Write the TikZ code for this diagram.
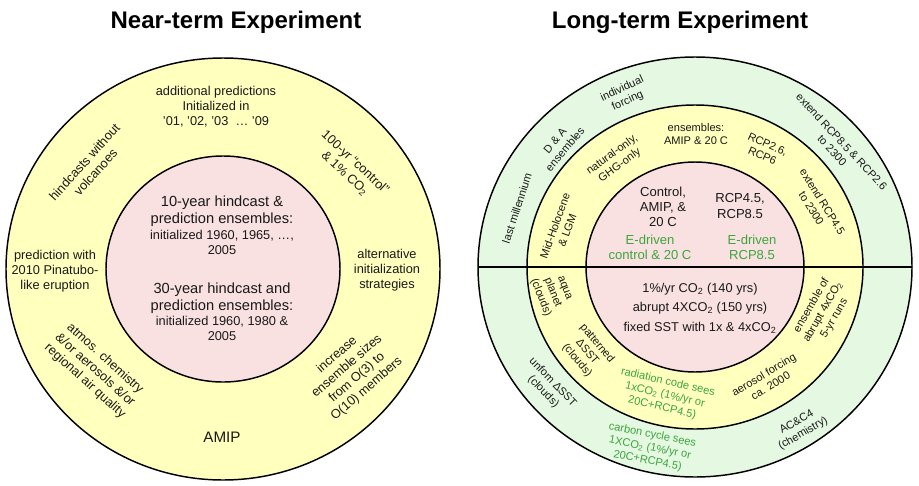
\documentclass[tikz,border=0pt]{standalone}
\usepackage{fontspec}
\setmainfont{Liberation Sans}
\definecolor{ringY}{RGB}{255,255,190}
\definecolor{ringP}{RGB}{250,225,225}
\definecolor{ringG}{RGB}{228,248,226}
\definecolor{txtG}{RGB}{60,165,60}
\definecolor{ink}{RGB}{25,25,25}
\begin{document}
\begin{tikzpicture}[x=0.75pt,y=-0.75pt,
  ring/.style={draw=black, line width=1.1pt},
  lbl/.style={align=center, inner sep=0pt, text=ink, font=\fontsize{9.6}{11.3}\selectfont},
  big/.style={lbl, font=\fontsize{11}{12.8}\selectfont},
  sml/.style={lbl, font=\fontsize{8.3}{9.8}\selectfont},
  mid/.style={lbl, font=\fontsize{9.8}{11.3}\selectfont},
  grn/.style={text=txtG},
  ttl/.style={inner sep=0pt, font=\fontsize{18}{20}\selectfont\bfseries}]
\useasboundingbox[fill=white] (0,0) rectangle (919,485);

% titles
\node[ttl] (t1) at (236,22) {Near-term Experiment};
\node[ttl] (t2) at (680,22) {Long-term Experiment};

% left circle
\fill[ringY] (223,269) ellipse [x radius=217, y radius=211];
\draw[ring] (223,269) ellipse [x radius=217, y radius=211];
\fill[ringP] (223,269) ellipse [x radius=117, y radius=113];
\draw[ring] (223,269) ellipse [x radius=117, y radius=113];

% right circle
\fill[ringG] (695,267) ellipse [x radius=217, y radius=210];
\draw[ring] (695,267) ellipse [x radius=217, y radius=210];
\fill[ringY] (695,267) ellipse [x radius=168, y radius=162];
\draw[ring] (695,267) ellipse [x radius=168, y radius=162];
\fill[ringP] (695,267) ellipse [x radius=109, y radius=105];
\draw[ring] (695,267) ellipse [x radius=109, y radius=105];
\coordinate (hl) at (478,267);
\coordinate (hr) at (912,267);
\draw[line width=1.6pt] (hl) -- (hr);

% left texts
\node[lbl] (addpred) at (216,107) {additional predictions\\Initialized in\\’01, ’02, ’03 \ … ’09};
\node[lbl, rotate=-43] (ctrl) at (350,168) {100-yr “control”\\\& 1\% CO\textsubscript{2}};
\node[lbl, rotate=48] (hind) at (90,167) {hindcasts without\\volcanoes};
\node[lbl] (pina) at (55,271) {prediction with\\2010 Pinatubo-\\like eruption};
\node[lbl, rotate=-42] (atmos) at (95,370) {atmos. chemistry\\\&/or aerosols \&/or\\regional air quality};
\node[lbl, font=\fontsize{11.4}{13}\selectfont] (amip) at (222,437) {AMIP};
\node[lbl, rotate=41] (incr) at (352,372) {increase\\ensemble sizes\\from O(3) to\\O(10) members};
\node[lbl] (alt) at (387,270) {alternative\\initialization\\strategies};
\node[big] (h10) at (222,211.5) {10-year hindcast \&\\prediction ensembles:};
\node[lbl] (i10) at (222,242) {initialized 1960, 1965, …,\\2005};
\node[big] (h30) at (222,298) {30-year hindcast and\\prediction ensembles:};
\node[lbl] (i30) at (222,328) {initialized 1960, 1980 \&\\2005};

% right texts: outer ring
\node[sml, rotate=72] (lastm) at (517,208) {last millennium};
\node[sml, rotate=50] (da) at (560,145) {D \& A\\ensembles};
\node[sml, rotate=25] (indiv) at (625,95) {individual\\forcing};
\node[sml, rotate=-47] (ext86) at (837,146) {extend RCP8.5 \& RCP2.6\\to 2300};
\node[sml, rotate=-46] (unif) at (548,387) {unfom ΔSST\\(clouds)};
\node[sml, grn, rotate=-11] (carb) at (650,448) {carbon cycle sees\\1XCO\textsubscript{2} (1\%/yr or\\20C+RCP4.5)};
\node[sml, rotate=30] (acc4) at (800,428) {AC\&C4\\(chemistry)};
% middle ring
\node[sml, rotate=70] (midh) at (561,228) {Mid-Holocene\\\& LGM};
\node[sml, rotate=36] (nat) at (616,160) {natural-only,\\GHG-only};
\node[sml] (ensA) at (696,134) {ensembles:\\AMIP \& 20 C};
\node[sml, rotate=-24] (rcp26) at (765,150) {RCP2.6,\\RCP6};
\node[sml, rotate=-58] (ext45) at (817,205) {extend RCP4.5\\to 2300};
\node[sml, rotate=-68] (aqua) at (552,293) {aqua\\planet\\(clouds)};
\node[sml, rotate=-50] (patt) at (587,352) {patterned\\ΔSST\\(clouds)};
\node[sml, grn, rotate=-13] (rad) at (665,395) {radiation code sees\\1xCO\textsubscript{2} (1\%/yr or\\20C+RCP4.5)};
\node[sml, rotate=31] (aer) at (767,380) {aerosol forcing\\ca. 2000};
\node[sml, rotate=60] (ensab) at (823,312) {ensemble of\\abrupt 4xCO\textsubscript{2}\\5-yr runs};
% inner
\node[mid] (ctl) at (663,207) {Control,\\AMIP, \&\\20 C};
\node[mid] (rcp45) at (740,206) {RCP4.5,\\RCP8.5};
\node[mid, grn] (ed1) at (650,247) {E-driven\\control \& 20 C};
\node[mid, grn] (ed2) at (752,247) {E-driven\\RCP8.5};
\node[mid, font=\fontsize{9.6}{14.6}\selectfont] (abr) at (700,308) {1\%/yr CO\textsubscript{2} (140 yrs)\\abrupt 4XCO\textsubscript{2} (150 yrs)\\fixed SST with 1x \& 4xCO\textsubscript{2}};
\end{tikzpicture}
\end{document}
